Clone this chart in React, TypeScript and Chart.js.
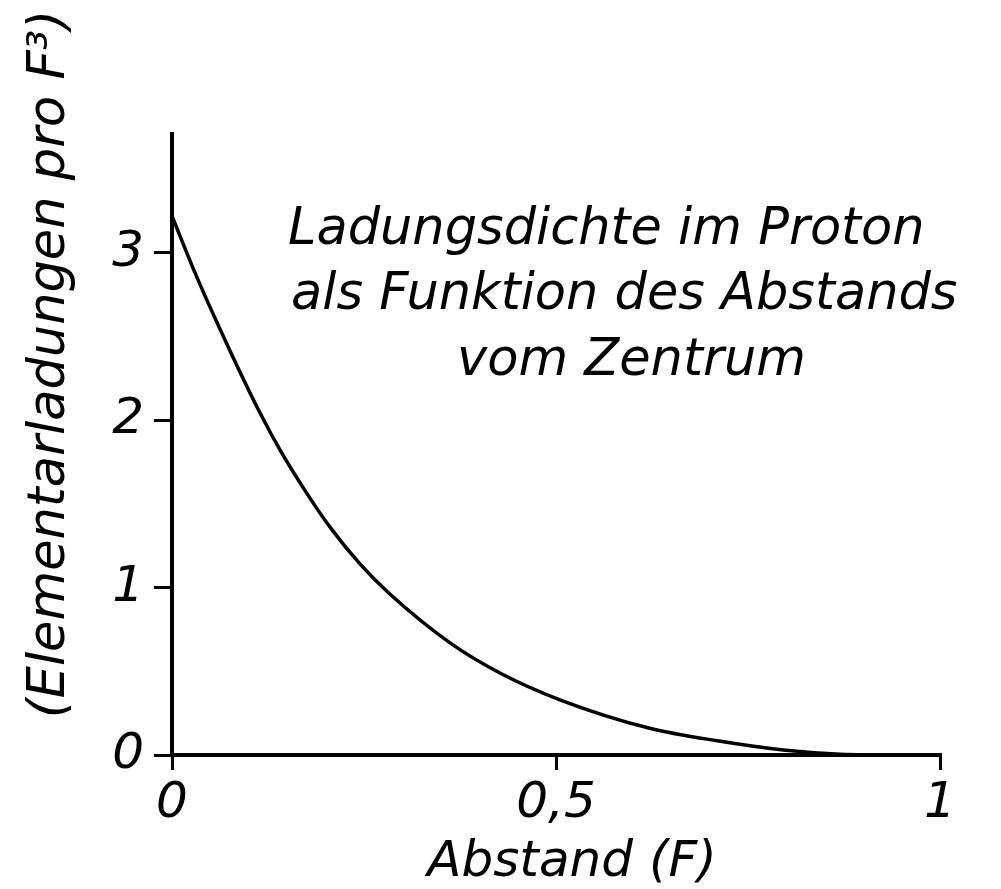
import React, { useEffect, useRef } from "react";
import { Chart, registerables } from "chart.js";

Chart.register(...registerables);

// Distance from the centre (F)
const distance = [0, 0.03, 0.072, 0.115, 0.141, 0.176, 0.206, 0.245, 0.284, 0.362, 0.427, 0.505, 0.622, 0.71, 0.796, 0.87, 0.95, 1.0];
// Charge density (elementary charges per F^3)
const density = [3.22, 2.88, 2.45, 2.04, 1.82, 1.56, 1.36, 1.14, 0.96, 0.67, 0.49, 0.33, 0.16, 0.085, 0.03, 0.005, 0, 0];

const xTicks = [0, 0.5, 1];
const xTickLabels = ["0", "0,5", "1"];
const yTicks = [0, 1, 2, 3];
const yTickLabels = ["0", "1", "2", "3"];

const annotationLines = ["Ladungsdichte im Proton", "als Funktion des Abstands", "vom Zentrum"];
const xTitle = "Abstand (F)";
const yTitle = "(Elementarladungen pro F³)";

const FONT_FAMILY = "'DejaVu Sans', 'Liberation Sans', sans-serif";

const textPlugin = {
  id: "handTexts",
  afterDraw(chart: any) {
    const ctx = chart.ctx as CanvasRenderingContext2D;
    ctx.save();
    ctx.fillStyle = "#000";
    ctx.font = `italic 51px ${FONT_FAMILY}`;
    ctx.textBaseline = "alphabetic";
    ctx.textAlign = "left";
    const lefts = [288, 291, 457];
    const bases = [244, 309, 375];
    annotationLines.forEach((t, i) => ctx.fillText(t, lefts[i], bases[i]));

    // x-axis title
    ctx.textAlign = "center";
    ctx.font = `italic 50px ${FONT_FAMILY}`;
    ctx.fillText(xTitle, 572, 876);

    // y-axis title
    ctx.font = `italic 51px ${FONT_FAMILY}`;
    ctx.translate(64, 364);
    ctx.rotate(-Math.PI / 2);
    ctx.fillText(yTitle, 0, 0);
    ctx.restore();
  },
};

export default function App() {
  const canvasRef = useRef<HTMLCanvasElement | null>(null);

  useEffect(() => {
    const canvas = canvasRef.current;
    if (!canvas) return;
    const chart = new Chart(canvas, {
      type: "line",
      data: {
        datasets: [
          {
            data: distance.map((x, i) => ({ x, y: density[i] })),
            borderColor: "#000",
            borderWidth: 3.5,
            pointRadius: 0,
            fill: false,
            cubicInterpolationMode: "monotone",
          },
        ],
      },
      options: {
        responsive: false,
        animation: false,
        events: [],
        layout: { padding: { top: 134, right: 61, left: 0, bottom: 0 } },
        plugins: { legend: { display: false }, tooltip: { enabled: false }, title: { display: false } },
        scales: {
          x: {
            type: "linear",
            min: 0,
            max: 1,
            afterFit: (s: any) => {
              s.height = 134;
            },
            afterBuildTicks: (s: any) => {
              s.ticks = xTicks.map((v) => ({ value: v }));
            },
            ticks: {
              color: "#000",
              padding: 4,
              maxRotation: 0,
              autoSkip: false,
              font: { family: FONT_FAMILY, style: "italic", size: 50 },
              callback: (v: any) => {
                const i = xTicks.indexOf(Number(v));
                return i >= 0 ? xTickLabels[i] : "";
              },
            },
            grid: { drawOnChartArea: false, drawTicks: true, tickLength: 15, color: "#000", lineWidth: 3 },
            border: { display: true, color: "#000", width: 4 },
          },
          y: {
            type: "linear",
            min: 0,
            max: 3.71,
            afterFit: (s: any) => {
              s.width = 172;
            },
            afterBuildTicks: (s: any) => {
              s.ticks = yTicks.map((v) => ({ value: v }));
            },
            ticks: {
              color: "#000",
              padding: 10,
              autoSkip: false,
              font: { family: FONT_FAMILY, style: "italic", size: 50 },
              callback: (v: any) => {
                const i = yTicks.indexOf(Number(v));
                return i >= 0 ? yTickLabels[i] : "";
              },
            },
            grid: { drawOnChartArea: false, drawTicks: true, tickLength: 18, color: "#000", lineWidth: 3 },
            border: { display: true, color: "#000", width: 4 },
          },
        },
      },
      plugins: [textPlugin],
    } as any);
    return () => chart.destroy();
  }, []);

  return (
    <canvas
      ref={canvasRef}
      width={1001}
      height={889}
      style={{ position: "absolute", left: 0, top: 0, width: 1001, height: 889, background: "#fff" }}
    />
  );
}
